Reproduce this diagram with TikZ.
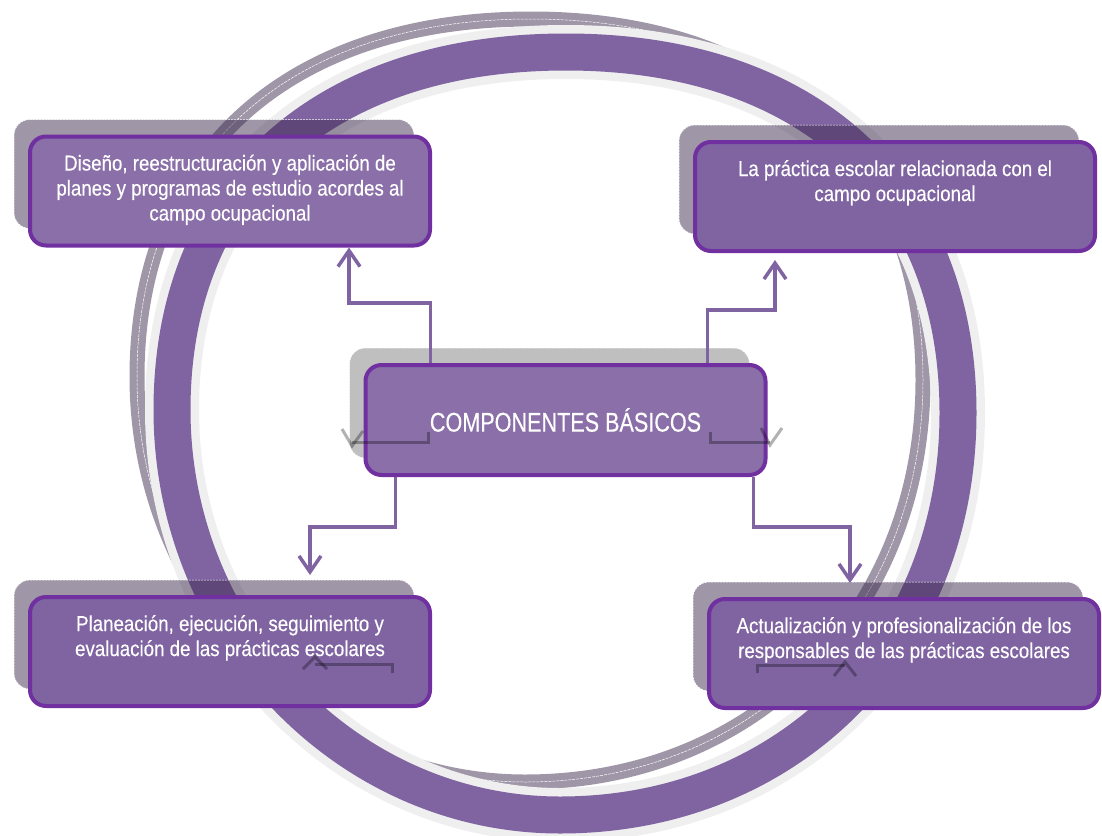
\documentclass[tikz,border=0pt]{standalone}
\usepackage{fontspec}
\setmainfont{Liberation Sans}
\newfontfamily\boxfont[FakeStretch=0.87, FakeBold=0.3]{Liberation Sans}
\newfontfamily\titlefont[FakeStretch=0.8, FakeBold=0.3]{Liberation Sans}
\usetikzlibrary{arrows.meta, positioning}
\definecolor{ringpurple}{HTML}{8064A2}
\definecolor{boxline}{HTML}{7030A0}
\definecolor{boxlight}{HTML}{8A6FA8}
\definecolor{shadowgray}{RGB}{63,45,81}
\definecolor{halo}{HTML}{EFEFEF}

% centre line of the ring, picture coordinates (y down)
\def\ringpath{(172,410) .. controls (172,188) and (322,52) .. (566,52)
  .. controls (809,52) and (958,189) .. (958,413)
  .. controls (958,645) and (790,815) .. (560,815)
  .. controls (347,815) and (172,633) .. cycle}

\begin{document}
\begin{tikzpicture}[x=1pt, y=-1pt,
    box/.style={draw=boxline, line width=4pt, fill=ringpurple, rounded corners=16pt,
      minimum width=400pt, minimum height=109pt, inner sep=0pt},
    dropshade/.style 2 args={
      preaction={fill=#1, fill opacity=#2, transform canvas={shift={(-16pt,17pt)}}},
      preaction={draw=white, line width=0.5pt, dash pattern=on 2pt off 1pt, transform canvas={shift={(-16pt,17pt)}}}},
    boxtext/.style={text=white, align=center, inner sep=0pt, font=\boxfont\fontsize{21.5}{25}\selectfont},
    conn/.style={draw=ringpurple, line width=3.5pt, -{Straight Barb[length=16pt, width=22pt]}},
    ghost/.style={draw=black, draw opacity=0.3, line width=3pt}]
  \useasboundingbox (0,0) rectangle (1102,835);
  % the ring and its shadow
  \begin{scope}[shift={(-35,-33)}]
    \draw[draw=shadowgray, draw opacity=0.5, line width=15pt] \ringpath;
    \draw[white, line width=0.5pt, dash pattern=on 3pt off 1pt] \ringpath;
  \end{scope}
  \draw[halo, line width=54pt] \ringpath;
  \draw[ringpurple, line width=37pt] \ringpath;

  % boxes
  \node[box, fill=boxlight, dropshade={shadowgray}{0.5}] (tl) at (230,191) {};
  \node[box, dropshade={shadowgray}{0.5}] (tr) at (895,196.5) {};
  \node[box, fill=boxlight, dropshade={black}{0.25}, minimum height=110pt, text=white,
    font=\titlefont\fontsize{27}{30}\selectfont] (cb) at (565.5,420) {COMPONENTES BÁSICOS};
  \node[box, dropshade={shadowgray}{0.5}] (bl) at (230,651.5) {};
  \node[box, dropshade={shadowgray}{0.5}, minimum width=390pt] (br) at (904,653.5) {};

  % connectors
  \draw[conn] ([xshift=67pt]cb.north west) -- ++(0,-60) -| ([xshift=321pt]tl.south west);
  \draw[conn] ([xshift=344pt]cb.north west) -- ++(0,-53) -| ([xshift=82pt, yshift=-7pt]tr.south west);
  \draw[conn] ([xshift=32pt]cb.south west) -- ++(0,50) -| ([xshift=282pt, yshift=20pt]bl.north west);
  \draw[conn] ([xshift=390pt]cb.south west) -- ++(0,50) -| ([xshift=143pt, yshift=14pt]br.north west);

  % faint shadow marks
  \draw[ghost] (428,432) -- (428,442) -- (352,442);
  \draw[ghost] (342,429) -- (352,446) -- (363,431);
  \draw[ghost] (710,432) -- (710,442) -- (770,442);
  \draw[ghost] (761,428) -- (770,445) -- (782,428);
  \draw[ghost] (392,673) -- (392,664) -- (315,664);
  \draw[ghost] (303,669) -- (315,657) -- (327,669);
  \draw[ghost] (757,673) -- (757,665) -- (845,665);
  \draw[ghost] (834,676) -- (845,662) -- (856,676);

  % texts
  \node[boxtext, below=20pt of tl.north] (tltext) {Diseño, reestructuración y aplicación de\\planes y programas de estudio acordes al\\campo ocupacional};
  \node[boxtext, below=20pt of tr.north] (trtext) {La práctica escolar relacionada con el\\campo ocupacional};
  \node[boxtext, below=20pt of bl.north] (bltext) {Planeación, ejecución, seguimiento y\\evaluación de las prácticas escolares};
  \node[boxtext, below=20pt of br.north] (brtext) {Actualización y profesionalización de los\\responsables de las prácticas escolares};
\end{tikzpicture}
\end{document}
